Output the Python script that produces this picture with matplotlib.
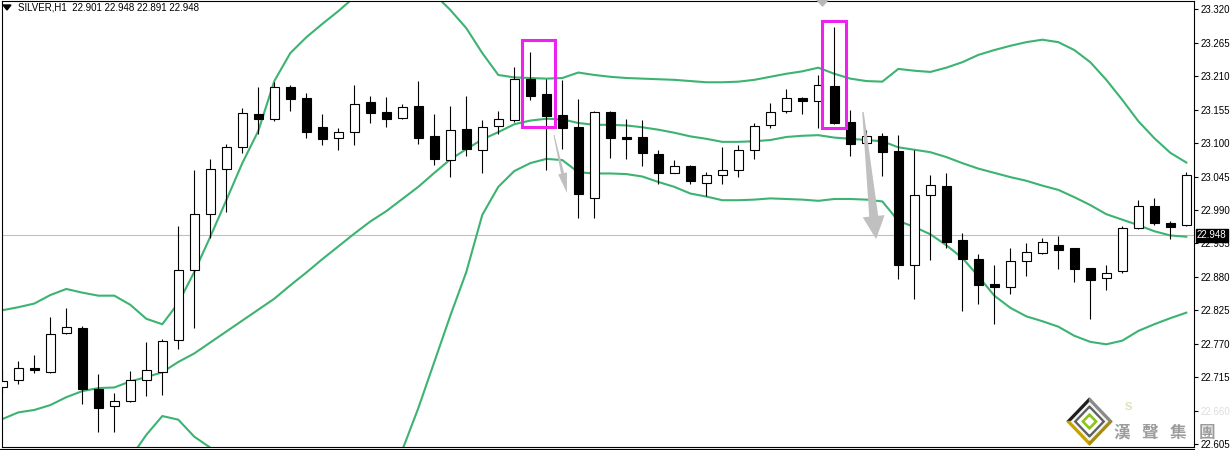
import numpy as np
import matplotlib
matplotlib.use('Agg')
import matplotlib.pyplot as plt
from matplotlib.patches import Polygon, Rectangle
from matplotlib.transforms import IdentityTransform

# SILVER H1 candles
opens = [22.698, 22.711, 22.730, 22.724, 22.787, 22.796, 22.696, 22.667, 22.675, 22.711,
         22.724, 22.776, 22.891, 22.984, 23.057, 23.093, 23.147, 23.139, 23.193, 23.174,
         23.126, 23.108, 23.119, 23.167, 23.151, 23.142, 23.161, 23.111, 23.072, 23.123,
         23.088, 23.128, 23.138, 23.205, 23.181, 23.146, 23.126, 23.009, 23.151, 23.110,
         23.110, 23.082, 23.051, 23.062, 23.035, 23.047, 23.055, 23.088, 23.129, 23.152,
         23.174, 23.169, 23.194, 23.135, 23.100, 23.111, 23.087, 22.899, 23.014, 23.029,
         22.941, 22.909, 22.868, 22.863, 22.906, 22.919, 22.932, 22.927, 22.894, 22.878,
         22.889, 22.961, 22.996, 22.968, 22.965]
highs = [22.727, 22.742, 22.751, 22.814, 22.828, 22.799, 22.720, 22.689, 22.725, 22.773,
         22.777, 22.964, 23.056, 23.074, 23.098, 23.158, 23.192, 23.201, 23.196, 23.182,
         23.148, 23.125, 23.196, 23.177, 23.176, 23.165, 23.202, 23.148, 23.161, 23.177,
         23.138, 23.153, 23.225, 23.250, 23.205, 23.204, 23.172, 23.152, 23.153, 23.140,
         23.138, 23.089, 23.072, 23.064, 23.052, 23.094, 23.097, 23.133, 23.166, 23.189,
         23.176, 23.212, 23.291, 23.154, 23.122, 23.116, 23.114, 23.089, 23.048, 23.050,
         22.952, 22.918, 22.899, 22.927, 22.936, 22.944, 22.947, 22.927, 22.894, 22.899,
         22.963, 23.006, 23.010, 22.972, 23.052]
lows = [22.689, 22.703, 22.721, 22.722, 22.786, 22.670, 22.625, 22.624, 22.674, 22.684,
        22.686, 22.762, 22.795, 22.944, 22.987, 23.084, 23.115, 23.137, 23.152, 23.109,
        23.097, 23.089, 23.097, 23.133, 23.127, 23.139, 23.099, 23.064, 23.045, 23.079,
        23.050, 23.115, 23.135, 23.171, 23.056, 23.091, 22.977, 22.977, 23.076, 23.074,
        23.063, 23.032, 23.050, 23.032, 23.013, 23.033, 23.045, 23.074, 23.125, 23.149,
        23.147, 23.124, 23.131, 23.078, 23.084, 23.046, 22.876, 22.843, 22.907, 22.928,
        22.824, 22.836, 22.803, 22.852, 22.882, 22.917, 22.893, 22.872, 22.811, 22.859,
        22.887, 22.959, 22.965, 22.943, 22.963]
closes = [22.709, 22.730, 22.726, 22.786, 22.797, 22.696, 22.665, 22.676, 22.711, 22.726,
          22.774, 22.891, 22.983, 23.057, 23.093, 23.149, 23.139, 23.192, 23.173, 23.119,
          23.106, 23.118, 23.165, 23.150, 23.140, 23.160, 23.109, 23.073, 23.121, 23.090,
          23.127, 23.139, 23.206, 23.178, 23.145, 23.124, 23.017, 23.151, 23.109, 23.107,
          23.083, 23.051, 23.063, 23.037, 23.047, 23.055, 23.088, 23.128, 23.151, 23.174,
          23.169, 23.195, 23.133, 23.098, 23.111, 23.086, 22.900, 23.014, 23.031, 22.937,
          22.910, 22.867, 22.864, 22.906, 22.920, 22.938, 22.924, 22.893, 22.875, 22.887,
          22.960, 22.996, 22.969, 22.962, 23.047]

# Bollinger bands
bb_upper = [22.825, 22.830, 22.836, 22.850, 22.860, 22.854, 22.849, 22.849, 22.834, 22.811,
            22.802, 22.837, 22.888, 22.946, 23.006, 23.067, 23.120, 23.202, 23.248, 23.274,
            23.296, 23.317, 23.340, 23.355, 23.363, 23.367, 23.362, 23.345, 23.319, 23.289,
            23.248, 23.212, 23.208, 23.207, 23.206, 23.207, 23.216, 23.212, 23.209, 23.207,
            23.206, 23.205, 23.204, 23.202, 23.200, 23.200, 23.201, 23.204, 23.209, 23.214,
            23.218, 23.224, 23.214, 23.206, 23.202, 23.201, 23.222, 23.219, 23.217, 23.224,
            23.233, 23.245, 23.253, 23.260, 23.266, 23.270, 23.266, 23.253, 23.233, 23.204,
            23.171, 23.136, 23.108, 23.084, 23.068]
bb_middle = [22.646, 22.657, 22.661, 22.669, 22.682, 22.692, 22.697, 22.698, 22.708, 22.715,
             22.723, 22.740, 22.754, 22.772, 22.790, 22.808, 22.826, 22.844, 22.866, 22.887,
             22.909, 22.930, 22.951, 22.971, 22.988, 23.008, 23.028, 23.051, 23.073, 23.090,
             23.106, 23.118, 23.131, 23.137, 23.140, 23.139, 23.133, 23.130, 23.130, 23.129,
             23.126, 23.122, 23.117, 23.111, 23.107, 23.102, 23.102, 23.103, 23.105, 23.110,
             23.112, 23.113, 23.109, 23.107, 23.105, 23.103, 23.093, 23.089, 23.085, 23.077,
             23.067, 23.058, 23.051, 23.044, 23.038, 23.030, 23.023, 23.011, 22.998, 22.983,
             22.974, 22.965, 22.955, 22.948, 22.946]
bb_lower = [22.467, 22.483, 22.486, 22.488, 22.505, 22.531, 22.544, 22.546, 22.582, 22.620,
            22.651, 22.645, 22.617, 22.599, 22.574, 22.549, 22.533, 22.485, 22.484, 22.500,
            22.522, 22.543, 22.538, 22.549, 22.566, 22.595, 22.664, 22.740, 22.816, 22.888,
            22.982, 23.028, 23.054, 23.067, 23.074, 23.072, 23.052, 23.050, 23.050, 23.049,
            23.045, 23.036, 23.028, 23.017, 23.012, 23.006, 23.006, 23.007, 23.009, 23.008,
            23.007, 23.005, 23.008, 23.008, 23.007, 23.004, 22.972, 22.962, 22.950, 22.932,
            22.911, 22.881, 22.849, 22.829, 22.815, 22.807, 22.798, 22.783, 22.773, 22.769,
            22.775, 22.791, 22.802, 22.812, 22.821]

y_ticks = [22.605, 22.660, 22.715, 22.770, 22.825, 22.880, 22.935, 22.990,
           23.045, 23.100, 23.155, 23.210, 23.265, 23.320]
title_text = 'SILVER,H1  22.901 22.948 22.891 22.948'
last_price = 22.948

# highlight boxes (candle index, price) and the grey arrows
boxes = [(32.46, 34.56, 23.127, 23.270), (51.23, 52.73, 23.125, 23.301)]
arrows = [((34.48, 23.113), (35.29, 23.018), 1.0, 3.0, 9, 20),
          ((53.79, 23.151), (54.61, 22.942), 1.5, 9.0, 22, 23)]

W, H = 1232, 450
plt.rcParams['font.family'] = ['Liberation Sans', 'DejaVu Sans']
fig = plt.figure(figsize=(W / 100, H / 100), dpi=100)
fig.patch.set_facecolor('white')

ax = fig.add_axes([1.5 / W, 3.5 / H, 1192.5 / W, 446 / H])
ax.set_xlim(-0.05, 74.48)
ax.set_ylim(22.6009, 23.3345)

x = np.arange(len(opens))
o = np.array(opens)
c = np.array(closes)

ax.axhline(last_price, color='#c0c0c0', lw=0.8, zorder=1)

green = '#3cb371'
for band in (bb_upper, bb_middle, bb_lower):
    ax.plot(x, band, color=green, lw=1.5, zorder=2)

ax.vlines(x, lows, highs, color='black', lw=0.8, zorder=3)
up = c > o
body_bottom = np.minimum(o, c)
body_h = np.maximum(np.abs(c - o), 0.0008)
ax.bar(x[up], body_h[up], bottom=body_bottom[up], width=0.6,
       color='white', edgecolor='black', linewidth=0.8, zorder=4)
ax.bar(x[~up], body_h[~up], bottom=body_bottom[~up], width=0.6,
       color='black', edgecolor='black', linewidth=0.8, zorder=4)

for x0, x1, y0, y1 in boxes:
    ax.add_patch(Rectangle((x0, y0), x1 - x0, y1 - y0, fill=False,
                           edgecolor='#ee22ee', lw=2.2, zorder=6))

# tapered grey arrows, drawn in pixel space
for tail, tip, w_tail, w_base, head_w, head_len in arrows:
    p0 = ax.transData.transform(tail)
    p1 = ax.transData.transform(tip)
    d = p1 - p0
    u = d / np.hypot(*d)
    n = np.array([-u[1], u[0]])
    base = p1 - u * head_len
    pts = [p0 + n * w_tail / 2, base + n * w_base / 2, base + n * head_w / 2, p1,
           base - n * head_w / 2, base - n * w_base / 2, p0 - n * w_tail / 2]
    fig.add_artist(Polygon(pts, closed=True, transform=IdentityTransform(),
                           facecolor='#c0c0c0', edgecolor='none', zorder=5))

ax.yaxis.tick_right()
ax.set_yticks(y_ticks)
ax.set_yticklabels([f'{v:.3f}' for v in y_ticks])
ax.tick_params(axis='y', direction='out', length=3, width=0.8, labelsize=7, pad=2,
               colors='black')
ax.set_xticks([])
for s in ax.spines.values():
    s.set_color('black')
    s.set_linewidth(0.8)
ax.get_yticklabels()[1].set_color('#dddddd')

# overlay in pixel coordinates for title, price tag and logo
ov = fig.add_axes([0, 0, 1, 1], zorder=5)
ov.set_xlim(0, W)
ov.set_ylim(H, 0)
ov.axis('off')
ov.patch.set_visible(False)

ov.add_patch(Polygon([(3, 5), (11, 5), (7, 10)], closed=True, color='black'))
ov.text(18, 7.5, title_text, fontsize=7, va='center', ha='left', color='black')
ov.add_patch(Polygon([(817, 0), (828, 0), (822.5, 6)], closed=True, color='#b8b8b8'))
ov.plot([0, 1194], [449, 449], color='black', lw=0.8)

ty = ax.transData.transform((0, last_price))[1]
ov.text(1197, H - ty, f'{last_price:.3f}', fontsize=7, color='white', va='center',
        ha='left', bbox=dict(boxstyle='square,pad=0.15', facecolor='black', edgecolor='black'))

# logo
cx, cy, hw, hh = 1089.5, 421.5, 22.5, 23.5
L, T, R, B, C = (cx - hw, cy), (cx, cy - hh), (cx + hw, cy), (cx, cy + hh), (cx, cy)
for pts, col in [([L, T, C], '#1e1e1e'), ([T, R, C], '#8a8a8a'),
                 ([L, B, C], '#c8a200'), ([B, R, C], '#a88a10')]:
    ov.add_patch(Polygon(pts, closed=True, color=col))


def diamond(s, col):
    ov.add_patch(Polygon([(cx, cy - hh * s), (cx + hw * s, cy), (cx, cy + hh * s),
                          (cx - hw * s, cy)], closed=True, color=col))


diamond(0.80, '#f4f4f4')
diamond(0.66, '#5e5e5e')
diamond(0.52, '#ffffff')
diamond(0.33, '#8dc21f')
diamond(0.17, '#ffffff')

ov.text(1128, 407, 'S', fontsize=8, color='#d8e4b8', ha='center', va='center',
        fontweight='bold')
for ch, xc in zip('漢聲集團', [1122, 1150, 1178, 1207]):
    ov.text(xc, 433, ch, fontsize=12, color='#9c9c9c', ha='center', va='center',
            family=['Noto Sans CJK TC', 'DejaVu Sans'], fontweight='bold')

fig.savefig('out.png', dpi=100)
